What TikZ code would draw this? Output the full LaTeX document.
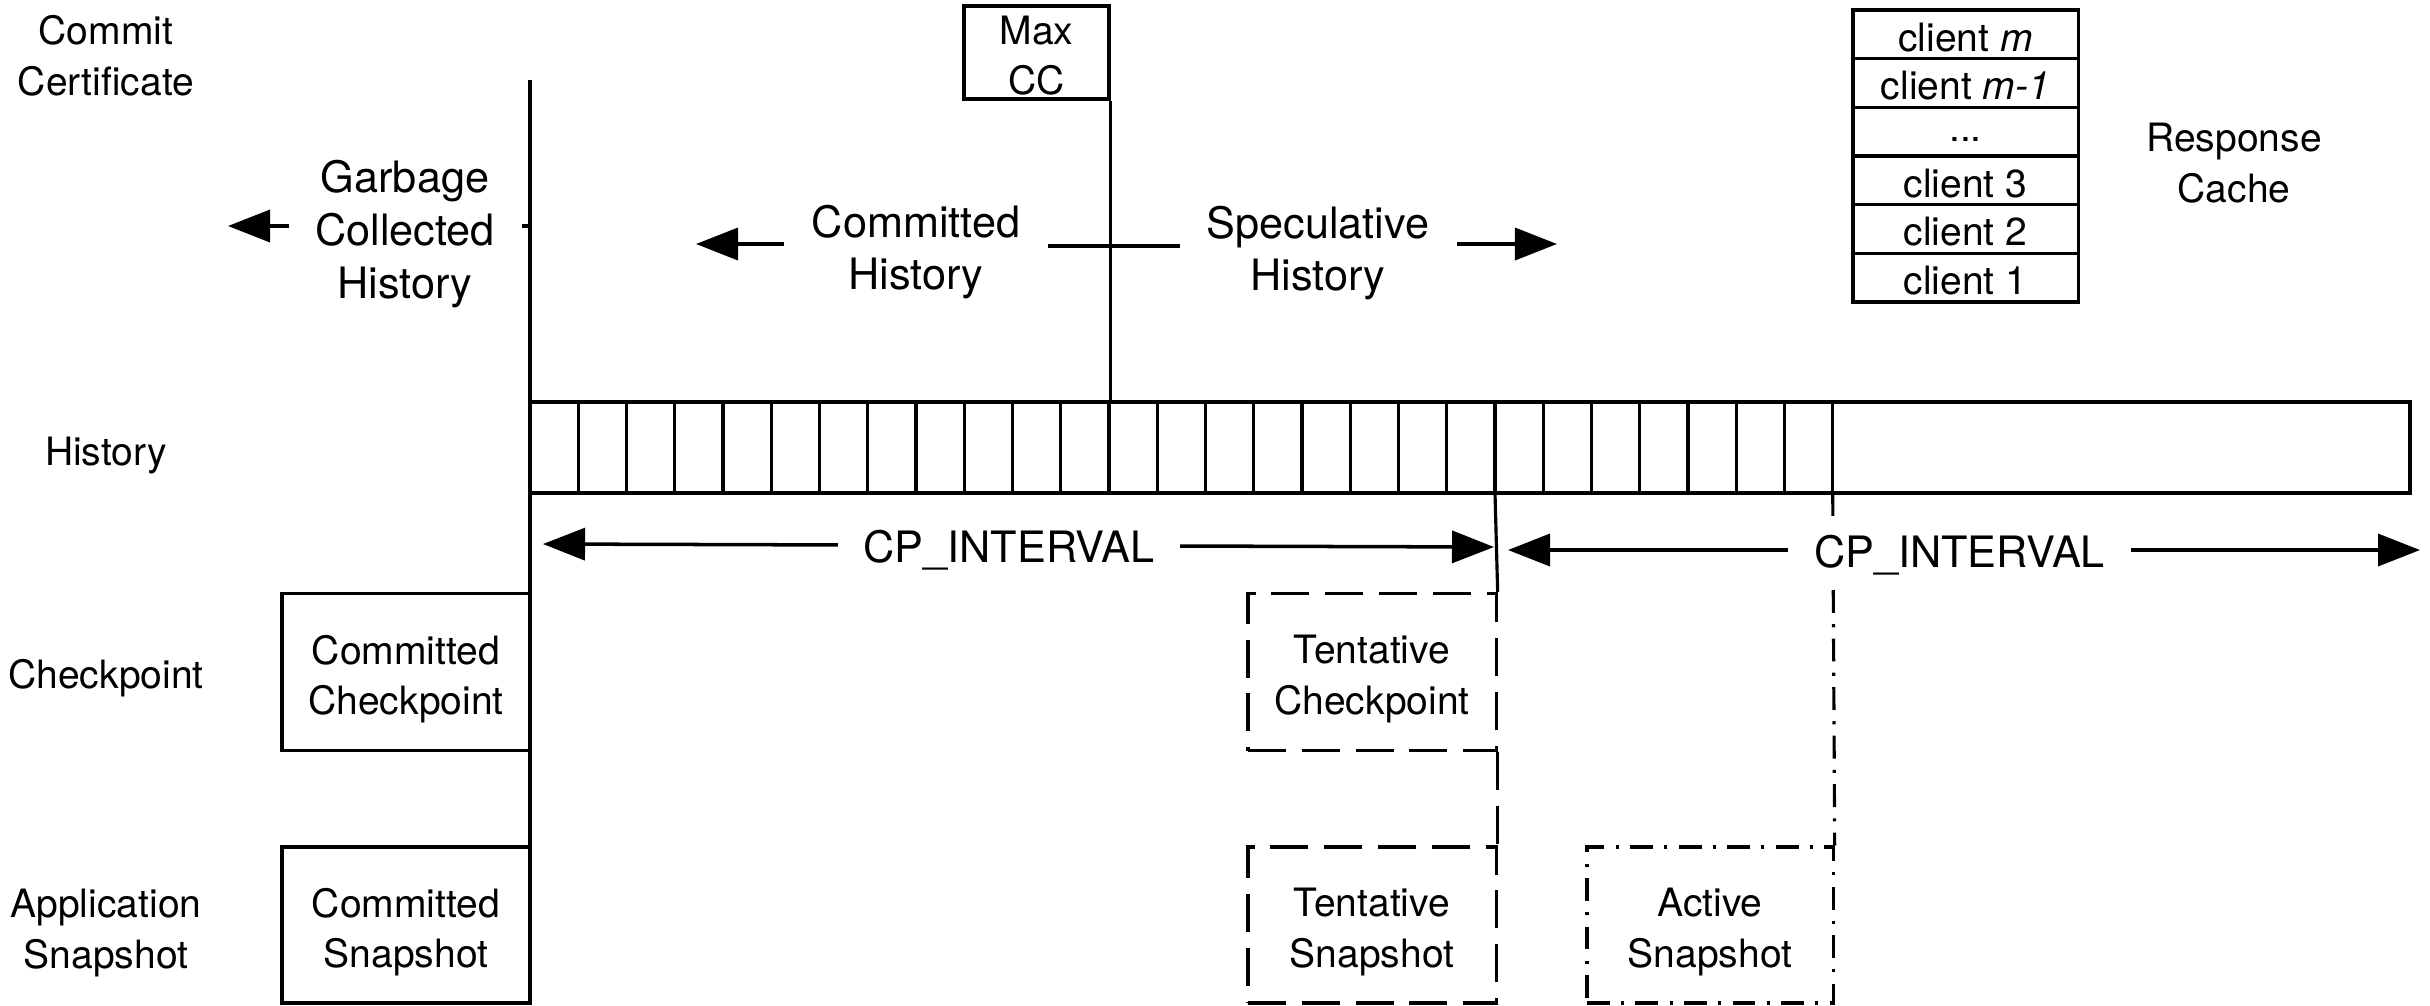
\documentclass[tikz,border=0pt]{standalone}
\usepackage{fontspec}
\setmainfont{TeX Gyre Heros}
\usetikzlibrary{arrows.meta}
\newcommand{\lbig}{\fontsize{12.3}{15}\selectfont}
\newcommand{\lsmall}{\fontsize{11.1}{14.4}\selectfont}

\begin{document}
\begin{tikzpicture}[x=0.01cm, y=-0.01cm,
  line width=0.9pt,
  every node/.style={inner sep=0pt, align=center, font=\lsmall},
  bigtext/.style={font=\lbig},
  cbox/.style={draw, minimum width=2.48cm, minimum height=1.57cm},
  dashbox/.style={cbox, dash pattern=on 10.8pt off 4.5pt},
  dotbox/.style={cbox, dash pattern=on 6.5pt off 3.2pt on 0.9pt off 3.2pt},
  boxtext/.style={yshift=-0.07cm},
  cell/.style={draw, minimum width=2.25cm, minimum height=0.487cm},
  celltext/.style={yshift=-0.03cm},
  bigarrow/.style={-{Triangle[length=0.42cm,width=0.32cm]}, line width=1pt},
  span/.style={{Triangle[length=0.42cm,width=0.32cm]}-{Triangle[length=0.42cm,width=0.32cm]}, line width=1pt},
  ivlabel/.style={font=\lbig, fill=white, inner xsep=7.4pt, inner ysep=3pt, yshift=-0.05cm}
]
\useasboundingbox (0,0) rectangle (2430,1005);

% row labels
\node (lcc)   at (106,56)  {Commit\\Certificate};
\node (lhist) at (106,456) {History};
\node (lcp)   at (106,678) {Checkpoint};
\node (lsnap) at (106,933) {Application\\Snapshot};

% history bar with its slots
\coordinate (bartl) at (530,402);
\coordinate (barbr) at (2410,493);
\draw (bartl) rectangle (barbr);
\foreach \k in {1,...,27}
  \draw ({530+48.25*\k},402) -- ({530+48.25*\k},493);
\coordinate (tentcut) at ({530+48.25*20},493);
\coordinate (actcut)  at ({530+48.25*27},493);

% commit line (garbage collection boundary)
\coordinate (ctop) at (530,80);
\coordinate (cbot) at (530,1003);
\draw (ctop) -- (cbot);
\coordinate (gtick) at (522,226);
\draw (gtick) -- (ctop |- gtick);

% committed checkpoint and snapshot
\node[cbox] (ccp) at (406,672) {};
\node[boxtext] (ccpt) at (ccp.center) {Committed\\Checkpoint};
\node[cbox, minimum height=1.56cm] (csn) at (406,925) {};
\node[boxtext] (csnt) at (csn.center) {Committed\\Snapshot};

% max commit certificate
\node[draw, minimum width=1.45cm, minimum height=0.93cm] (maxcc) at (1036.5,52.5) {};
\node[yshift=-0.03cm] (maxcct) at (maxcc.center) {Max\\CC};
\draw (maxcc.south east) -- (maxcc.south east |- bartl);
\coordinate (hl) at (1048,246);
\coordinate (hr) at (1180,246);
\draw (hl) -- (hr);

% history region labels and arrows
\node[bigtext] (gch) at (405,234) {Garbage\\Collected\\History};
\coordinate (ga1) at (289,226); \coordinate (ga2) at (228,226);
\draw[bigarrow] (ga1) -- (ga2);
\node[bigtext] (cmh) at (916,252) {Committed\\History};
\coordinate (ca1) at (784,244); \coordinate (ca2) at (696,244);
\draw[bigarrow] (ca1) -- (ca2);
\node[bigtext] (sph) at (1318,253) {Speculative\\History};
\coordinate (sa1) at (1457,244); \coordinate (sa2) at (1557,244);
\draw[bigarrow] (sa1) -- (sa2);

% response cache
\node[cell] (r6) at (1965.5,34.3)  {};
\node[cell] (r5) at (1965.5,83.0)  {};
\node[cell] (r4) at (1965.5,131.7) {};
\node[cell] (r3) at (1965.5,180.3) {};
\node[cell] (r2) at (1965.5,229.0) {};
\node[cell] (r1) at (1965.5,277.7) {};
\node[celltext] (r6t) at (r6.center) {client \textit{m}};
\node[celltext] (r5t) at (r5.center) {client \textit{m-1}};
\node[yshift=-0.08cm] (r4t) at (r4.center) {...};
\node[celltext] (r3t) at (r3.center) {client 3};
\node[celltext] (r2t) at (r2.center) {client 2};
\node[celltext] (r1t) at (r1.center) {client 1};
\node (rc) at (2234,163) {Response\\Cache};

% tentative checkpoint and snapshot
\node[dashbox] (tcp) at (1372,672) {};
\node[boxtext] (tcpt) at (tcp.center) {Tentative\\Checkpoint};
\node[dashbox, minimum height=1.56cm] (tsn) at (1372,925) {};
\node[boxtext] (tsnt) at (tsn.center) {Tentative\\Snapshot};
\draw (tentcut) -- (tcp.north east);
\draw[dash pattern=on 10.8pt off 4.5pt] (tcp.south east) -- (tsn.north east);

% active snapshot
\node[dotbox, minimum width=2.46cm, minimum height=1.56cm] (asn) at (1710,925) {};
\node[boxtext] (asnt) at (asn.center) {Active\\Snapshot};
\draw[dash pattern=on 6.5pt off 3.2pt on 0.9pt off 3.2pt] (actcut) -- (asn.north east);

% checkpoint intervals
\coordinate (i1a) at (543,544);  \coordinate (i1b) at (1494,547);
\coordinate (i2a) at (1508,550); \coordinate (i2b) at (2420,550);
\draw[span] (i1a) -- node[ivlabel, pos=0.49] (iv1) {CP\_INTERVAL} (i1b);
\draw[span] (i2a) -- node[ivlabel, pos=0.495] (iv2) {CP\_INTERVAL} (i2b);
\end{tikzpicture}
\end{document}
